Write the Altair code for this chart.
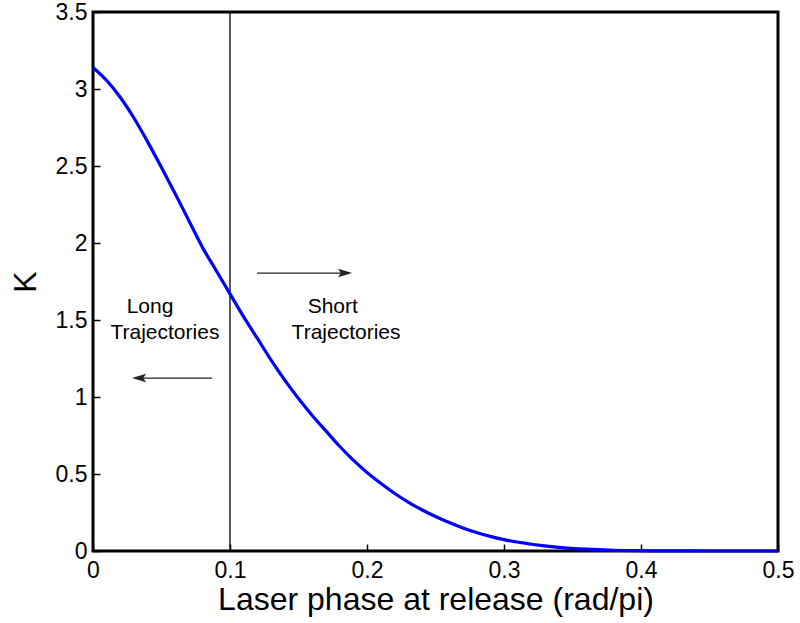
import altair as alt
import pandas as pd

FONT = "Liberation Sans"

# Curve values
phase = [0.00, 0.01, 0.02, 0.03, 0.04, 0.05, 0.06, 0.07, 0.08, 0.09, 0.10,
         0.11, 0.12, 0.13, 0.14, 0.15, 0.16, 0.17, 0.18, 0.19, 0.20,
         0.21, 0.22, 0.23, 0.24, 0.25, 0.26, 0.27, 0.28, 0.29, 0.30,
         0.32, 0.34, 0.36, 0.38, 0.40, 0.42, 0.44, 0.46, 0.48, 0.50]
K = [3.14, 3.055, 2.945, 2.81, 2.655, 2.49, 2.32, 2.145, 1.97, 1.82, 1.67,
     1.52, 1.38, 1.24, 1.11, 0.99, 0.88, 0.78, 0.68, 0.59, 0.51,
     0.44, 0.375, 0.318, 0.268, 0.224, 0.185, 0.150, 0.120, 0.095, 0.074,
     0.044, 0.024, 0.012, 0.005, 0.002, 0.0007, 0.0002, 0.0, 0.0, 0.0]

divider_x = [0.1]

label_text = ["Long", "Trajectories", "Short", "Trajectories"]
label_x = [0.0416, 0.0525, 0.175, 0.1847]
label_y = [1.584, 1.415, 1.584, 1.415]

arrow_x1 = [0.1197, 0.087]
arrow_x2 = [0.184, 0.0336]
arrow_y = [1.805, 1.123]
arrow_dir = ["right", "left"]

x_ticks = [0, 0.1, 0.2, 0.3, 0.4, 0.5]
y_ticks = [0, 0.5, 1, 1.5, 2, 2.5, 3, 3.5]

curve_df = pd.DataFrame({"phase": phase, "K": K})
div_df = pd.DataFrame({"x": divider_x})
lab_df = pd.DataFrame({"text": label_text, "x": label_x, "y": label_y})
arr_df = pd.DataFrame({"x1": arrow_x1, "x2": arrow_x2, "y": arrow_y, "dir": arrow_dir})

xscale = alt.Scale(domain=[0, 0.5], nice=False, zero=False)
yscale = alt.Scale(domain=[0, 3.5], nice=False, zero=False)

xaxis = alt.Axis(values=x_ticks, title="Laser phase at release (rad/pi)",
                 format="~g", grid=False, domain=False, tickSize=7, offset=-7,
                 tickColor="black", tickWidth=1.5, labelPadding=8,
                 labelFontSize=23, titleFontSize=32, titlePadding=2,
                 labelColor="black", titleColor="black",
                 labelFont=FONT, titleFont=FONT, titleFontWeight="normal",
                 labelFlush=False, labelOverlap=False)
yaxis = alt.Axis(values=y_ticks, title="K", format="~g", grid=False,
                 domain=False, tickSize=7, offset=-7, tickColor="black",
                 tickWidth=1.5, labelPadding=6, labelFontSize=23,
                 titleFontSize=32, titlePadding=13, labelColor="black",
                 titleColor="black", labelFont=FONT, titleFont=FONT,
                 titleFontWeight="normal", labelFlush=False, labelOverlap=False)

curve = alt.Chart(curve_df).mark_line(color="#0000ff", strokeWidth=3.2, interpolate="monotone").encode(
    x=alt.X("phase:Q", scale=xscale, axis=xaxis),
    y=alt.Y("K:Q", scale=yscale, axis=yaxis),
)

divider = alt.Chart(div_df).mark_rule(color="black", strokeWidth=1.3).encode(
    x=alt.X("x:Q", scale=xscale)
)

labels = alt.Chart(lab_df).mark_text(font=FONT, fontSize=21, color="black", align="center", baseline="middle").encode(
    x=alt.X("x:Q", scale=xscale),
    y=alt.Y("y:Q", scale=yscale),
    text="text:N",
)

shafts = alt.Chart(arr_df).mark_rule(color="#222222", strokeWidth=1.3).encode(
    x=alt.X("x1:Q", scale=xscale),
    x2="x2:Q",
    y=alt.Y("y:Q", scale=yscale),
)

right_head = "M1,0 L-1,-0.6 L-0.6,0 L-1,0.6 Z"
left_head = "M-1,0 L1,-0.6 L0.6,0 L1,0.6 Z"

head_r = alt.Chart(arr_df).transform_filter(alt.datum.dir == "right").mark_point(
    shape=right_head, filled=True, color="#222222", size=200, opacity=1).encode(
    x=alt.X("x2:Q", scale=xscale),
    y=alt.Y("y:Q", scale=yscale),
)
head_l = alt.Chart(arr_df).transform_filter(alt.datum.dir == "left").mark_point(
    shape=left_head, filled=True, color="#222222", size=200, opacity=1).encode(
    x=alt.X("x2:Q", scale=xscale),
    y=alt.Y("y:Q", scale=yscale),
)

chart = alt.layer(divider, shafts, head_r, head_l, labels, curve).properties(
    width=685, height=539,
    autosize=alt.AutoSizeParams(type="none"),
    padding={"left": 93, "top": 12, "right": 22, "bottom": 72},
    background="white",
).configure_view(stroke="black", strokeWidth=3)

chart.save("out.html", embed_options={"renderer": "svg", "actions": False})
